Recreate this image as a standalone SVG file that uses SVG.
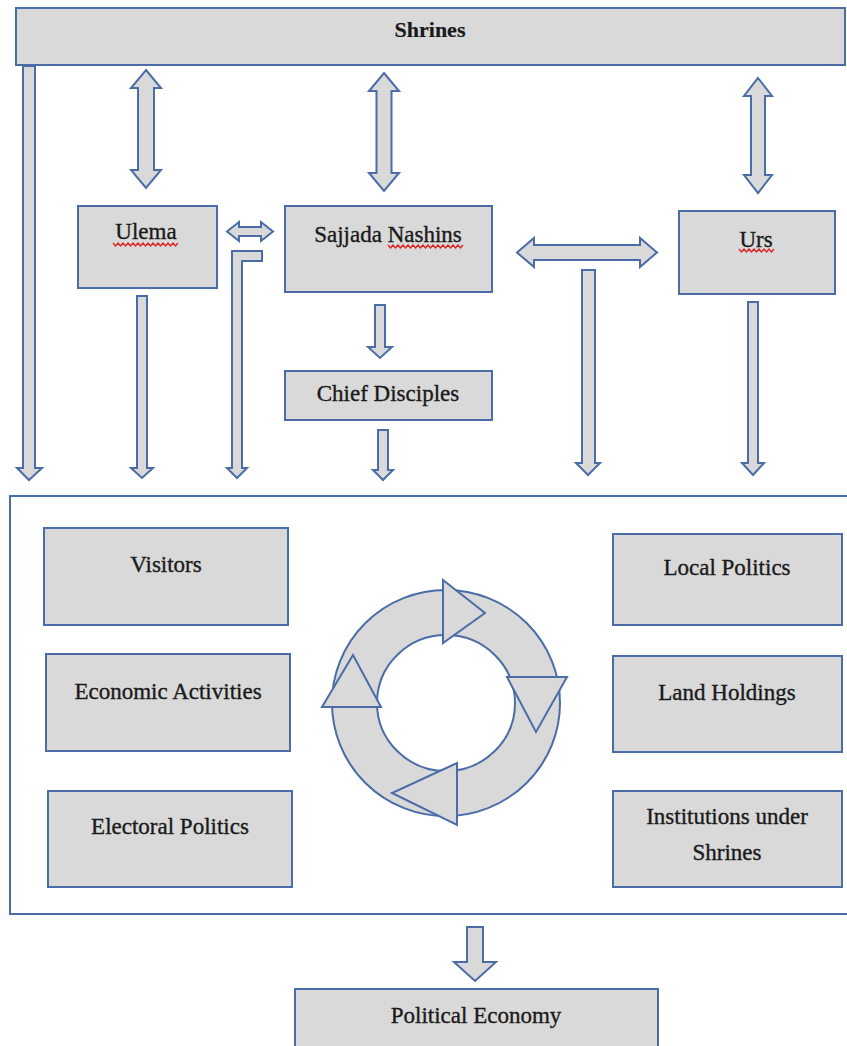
<svg xmlns="http://www.w3.org/2000/svg" width="847" height="1046" viewBox="0 0 847 1046">
<style>
.box{fill:#d9d9d9;stroke:#4a6da7;stroke-width:2}
.arr{fill:#d9d9d9;stroke:#4a6da7;stroke-width:2;stroke-linejoin:miter}
.frame{fill:none;stroke:#4a6da7;stroke-width:2}
.t{font-family:"Liberation Serif","Times New Roman",serif;font-size:23px;fill:#1a1a1a;stroke:#1a1a1a;stroke-width:0.35;text-anchor:middle}
.b{font-weight:bold;font-size:22px;stroke-width:0.2}
.sq{fill:none;stroke:#e02020;stroke-width:1.3}
</style>
<rect width="847" height="1046" fill="#ffffff"/>
<g id="container"><rect class="frame" x="10" y="496" width="850" height="418"/></g>
<g id="shrines"><rect class="box" x="16" y="8" width="829" height="57"/><text class="t b" x="430" y="37">Shrines</text></g>
<g id="ulema"><rect class="box" x="78" y="206" width="139" height="82"/><text class="t" x="146" y="239">Ulema</text><path class="sq" d="M113 243 l2.5 3 l2.5 -3 l2.5 3 l2.5 -3 l2.5 3 l2.5 -3 l2.5 3 l2.5 -3 l2.5 3 l2.5 -3 l2.5 3 l2.5 -3 l2.5 3 l2.5 -3 l2.5 3 l2.5 -3 l2.5 3 l2.5 -3 l2.5 3 l2.5 -3 l2.5 3 l2.5 -3 l2.5 3 l2.5 -3 l2.5 3 l2.5 -3"/></g>
<g id="sajjada"><rect class="box" x="285" y="206" width="207" height="86"/><text class="t" x="388" y="242">Sajjada Nashins</text><path class="sq" d="M388 245 l2.5 3 l2.5 -3 l2.5 3 l2.5 -3 l2.5 3 l2.5 -3 l2.5 3 l2.5 -3 l2.5 3 l2.5 -3 l2.5 3 l2.5 -3 l2.5 3 l2.5 -3 l2.5 3 l2.5 -3 l2.5 3 l2.5 -3 l2.5 3 l2.5 -3 l2.5 3 l2.5 -3 l2.5 3 l2.5 -3 l2.5 3 l2.5 -3 l2.5 3 l2.5 -3 l2.5 3 l2.5 -3"/></g>
<g id="urs"><rect class="box" x="679" y="211" width="156" height="83"/><text class="t" x="756" y="247">Urs</text><path class="sq" d="M739 249 l2.5 3 l2.5 -3 l2.5 3 l2.5 -3 l2.5 3 l2.5 -3 l2.5 3 l2.5 -3 l2.5 3 l2.5 -3 l2.5 3 l2.5 -3 l2.5 3 l2.5 -3"/></g>
<g id="chief"><rect class="box" x="285" y="371" width="207" height="49"/><text class="t" x="388" y="401">Chief Disciples</text></g>
<g id="visitors"><rect class="box" x="44" y="528" width="244" height="97"/><text class="t" x="166" y="572">Visitors</text></g>
<g id="economic"><rect class="box" x="46" y="654" width="244" height="97"/><text class="t" x="168" y="699">Economic Activities</text></g>
<g id="electoral"><rect class="box" x="48" y="791" width="244" height="96"/><text class="t" x="170" y="834">Electoral Politics</text></g>
<g id="local"><rect class="box" x="613" y="534" width="229" height="91"/><text class="t" x="727" y="575">Local Politics</text></g>
<g id="land"><rect class="box" x="613" y="656" width="229" height="96"/><text class="t" x="727" y="700">Land Holdings</text></g>
<g id="institutions"><rect class="box" x="613" y="791" width="229" height="96"/><text class="t" x="727" y="824">Institutions under</text><text class="t" x="727" y="860">Shrines</text></g>
<g id="cycle">
<path class="arr" fill-rule="evenodd" d="M332 703 a114 113 0 1 0 228 0 a114 113 0 1 0 -228 0 Z M377 703 a69 68 0 1 0 138 0 a69 68 0 1 0 -138 0 Z"/>
<polygon class="arr" points="443,580 485,613 443,643"/>
<polygon class="arr" points="507,677 567,677 536,732"/>
<polygon class="arr" points="457,763 457,825 392,793"/>
<polygon class="arr" points="322,707 381,707 353,655"/>
</g>
<g id="political"><rect class="box" x="295" y="989" width="363" height="70"/><text class="t" x="476" y="1023">Political Economy</text></g>
<g id="connectors">
<polygon class="arr" points="146,70 161,88 154,88 154,170 161,170 146,188 131,170 138,170 138,88 131,88"/>
<polygon class="arr" points="384,73 399,91 391.5,91 391.5,173 399,173 384,191 369,173 376.5,173 376.5,91 369,91"/>
<polygon class="arr" points="758,78 772,96 765,96 765,175 772,175 758,193 744,175 751,175 751,96 744,96"/>
<polygon class="arr" points="23,66 35,66 35,468 42,468 29,480 17,468 23,468"/>
<polygon class="arr" points="137,296 147,296 147,468 153,468 142,478 131,468 137,468"/>
<polygon class="arr" points="232,251 262,251 262,261 242,261 242,468 247,468 237,478 227,468 232,468"/>
<polygon class="arr" points="227,231.5 239,222 239,227 261,227 261,222 273,231.5 261,241 261,236 239,236 239,241"/>
<polygon class="arr" points="517,252.5 534,238 534,245 640,245 640,238 657,252.5 640,267 640,260 534,260 534,267"/>
<polygon class="arr" points="375,305 385,305 385,347 392,347 380,358 368,347 375,347"/>
<polygon class="arr" points="378,430 388,430 388,470 393,470 383,480 373,470 378,470"/>
<polygon class="arr" points="582,270 595,270 595,463 600,463 588,475 576,463 582,463"/>
<polygon class="arr" points="748,302 758,302 758,463 764,463 753,475 742,463 748,463"/>
<polygon class="arr" points="467,927 483,927 483,962 496,962 475,981 454,962 467,962"/>
</g>
</svg>
